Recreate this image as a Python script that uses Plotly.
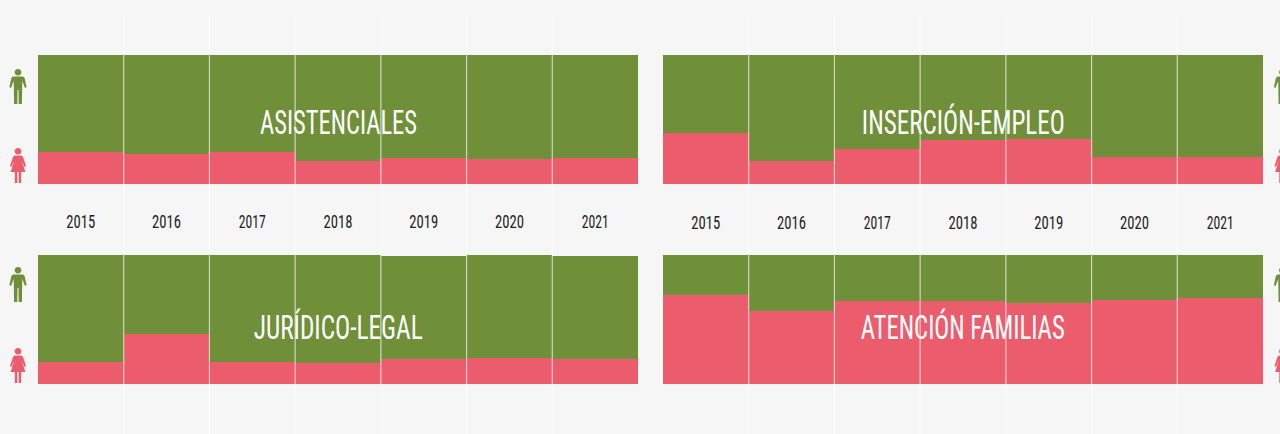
import plotly.graph_objects as go

YEARS = ["2015", "2016", "2017", "2018", "2019", "2020", "2021"]
TITLES = ["ASISTENCIALES", "INSERCIÓN-EMPLEO", "JURÍDICO-LEGAL", "ATENCIÓN FAMILIAS"]
WOMEN_ASIS = [25, 23.5, 25, 17.5, 20.5, 19, 20.5]
MEN_ASIS = [75, 76.5, 75, 82.5, 79.5, 81, 79.5]
WOMEN_INS = [39.5, 17.5, 27, 34, 35, 21, 21]
MEN_INS = [60.5, 82.5, 73, 66, 65, 79, 79]
WOMEN_JUR = [17, 39, 17, 16, 19, 20.5, 19]
MEN_JUR = [83, 61, 83, 84, 80, 79.5, 80]
WOMEN_FAM = [69, 56.5, 64, 64, 63, 65, 66.5]
MEN_FAM = [31, 43.5, 36, 36, 37, 35, 33.5]
PANELS = [(WOMEN_ASIS, MEN_ASIS), (WOMEN_INS, MEN_INS), (WOMEN_JUR, MEN_JUR), (WOMEN_FAM, MEN_FAM)]

GREEN = "#6f8f39"
RED = "#eb5d6d"
BG = "#f6f6f6"
FONT = "Roboto Condensed"
W, H = 1280, 434
XD = [(38, 638), (663, 1263)]
YD = [(55, 184), (255, 384)]
HEAD = "M0,35 C2,35 3.4,33.5 3.4,31.8 C3.4,30 2,28.6 0,28.6 C-2,28.6 -3.4,30 -3.4,31.8 C-3.4,33.5 -2,35 0,35 Z "
MAN = (HEAD + "M-4.5,27.5 L4.5,27.5 Q6,27.5 6.6,26 L8.6,17 L7,16 L4.3,23 L3.9,0 L0.7,0 L0.5,14 L-0.5,14 L-0.7,0 "
       "L-3.9,0 L-4.3,23 L-7,16 L-8.6,17 L-6.6,26 Q-6,27.5 -4.5,27.5 Z")
WOMAN = (HEAD + "M-3,27.5 L3,27.5 Q4.5,27.5 5,26 L8,17 L6.5,16 L3.6,22.5 L7.4,11 L3.2,11 L3.2,0 L0.7,0 L0.7,11 L-0.7,11 "
         "L-0.7,0 L-3.2,0 L-3.2,11 L-7.4,11 L-3.6,22.5 L-6.5,16 L-8,17 L-5,26 Q-4.5,27.5 -3,27.5 Z")

fig = go.Figure()
shapes, annotations = [], []
for i, (women, men) in enumerate(PANELS):
    col, row = i % 2, i // 2
    ax = "" if i == 0 else str(i + 1)
    x0, x1 = XD[col]
    y0, y1 = YD[row]
    fig.add_bar(x=YEARS, y=women, marker=dict(color=RED, line_width=0), xaxis=f"x{ax}", yaxis=f"y{ax}", name="Mujeres", showlegend=False)
    fig.add_bar(x=YEARS, y=men, marker=dict(color=GREEN, line_width=0), xaxis=f"x{ax}", yaxis=f"y{ax}", name="Hombres", showlegend=False)
    fig.update_layout({
        f"xaxis{ax}": dict(domain=[x0 / W, x1 / W], anchor=f"y{ax}", type="category", range=[-0.5, 6.5],
                           showgrid=False, zeroline=False, showline=False, ticks="",
                           showticklabels=(row == 0), ticklabelstandoff=25 + col,
                           tickfont=dict(family=FONT, size=18, color="#222222")),
        f"yaxis{ax}": dict(domain=[1 - y1 / H, 1 - y0 / H], anchor=f"x{ax}", range=[0, 100],
                           showgrid=False, zeroline=False, showline=False, showticklabels=False),
    })
    if row == 0:
        for k in range(6):
            shapes.append(dict(type="line", xref=f"x{ax}", yref="paper", x0=k + 0.5, x1=k + 0.5,
                               y0=0, y1=1 - 15 / H, line=dict(color="rgba(255,255,255,0.65)", width=1.2), layer="above"))
    annotations.append(dict(text=TITLES[i], xref="paper", yref="paper", x=(x0 + x1) / 2 / W,
                            y=1 - (122.5 + 205 * row) / H, showarrow=False,
                            font=dict(family=FONT, size=33, color="white"), xanchor="center", yanchor="middle"))
for cx in (18, 1282.5):
    for my, wy in [(104, 183), (302, 383)]:
        shapes.append(dict(type="path", path=MAN, xref="paper", yref="paper", xsizemode="pixel", ysizemode="pixel",
                           xanchor=cx / W, yanchor=1 - my / H, fillcolor=GREEN, line_width=0))
        shapes.append(dict(type="path", path=WOMAN, xref="paper", yref="paper", xsizemode="pixel", ysizemode="pixel",
                           xanchor=cx / W, yanchor=1 - wy / H, fillcolor=RED, line_width=0))

fig.update_layout(barmode="stack", bargap=0, width=W, height=H, margin=dict(l=0, r=0, t=0, b=0),
                  paper_bgcolor=BG, plot_bgcolor=BG, showlegend=False, shapes=shapes, annotations=annotations)

# Narrow the real text to the reference's condensed proportions (Oswald is not installed).
POST = """
document.body.style.margin='0';document.body.style.background='#f6f6f6';
var tw={'ASISTENCIALES':157,'INSERCIÓN-EMPLEO':203,'JURÍDICO-LEGAL':169,'ATENCIÓN FAMILIAS':204};
document.querySelectorAll('.annotation-text').forEach(function(t){
  var w=tw[t.textContent]; if(w){t.setAttribute('textLength',w);t.setAttribute('lengthAdjust','spacingAndGlyphs');}
});
document.querySelectorAll('.xtick text, .x2tick text').forEach(function(t){
  t.setAttribute('textLength',t.textContent==='2017'||t.textContent==='2021'?27:29);t.setAttribute('lengthAdjust','spacingAndGlyphs');
});
"""
fig.write_html("out.html", config={"displayModeBar": False}, post_script=POST)
